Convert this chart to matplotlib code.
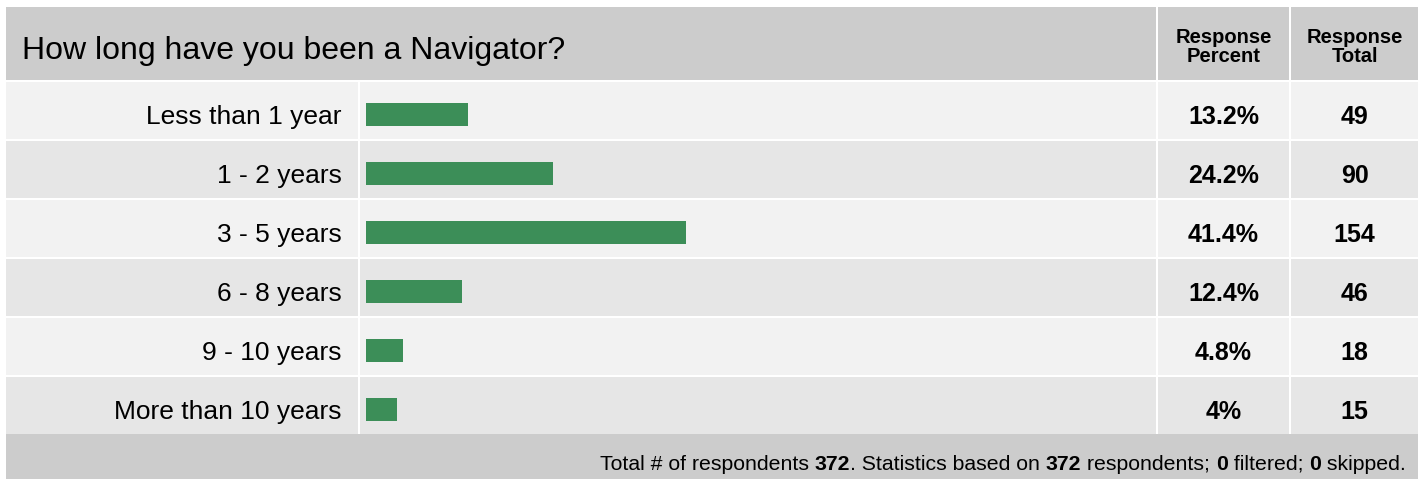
import matplotlib
matplotlib.use("Agg")
import matplotlib.pyplot as plt
from matplotlib.patches import Rectangle
from matplotlib.transforms import blended_transform_factory

plt.rcParams["font.family"] = ["Liberation Sans", "DejaVu Sans"]

question = "How long have you been a Navigator?"
categories = [
    "Less than 1 year",
    "1 - 2 years",
    "3 - 5 years",
    "6 - 8 years",
    "9 - 10 years",
    "More than 10 years",
]
percents = [13.2, 24.2, 41.4, 12.4, 4.8, 4.0]
percent_labels = ["13.2%", "24.2%", "41.4%", "12.4%", "4.8%", "4%"]
totals = [49, 90, 154, 46, 18, 15]
n_respondents = 372
n_filtered = 0
n_skipped = 0

W, H = 1424, 479
HEADER_C = "#cccccc"
ROW_C = ["#f2f2f2", "#e6e6e6"]
BAR_C = "#3c8e58"

fig = plt.figure(figsize=(W / 100, H / 100), dpi=100)
fig.patch.set_facecolor("white")

# background in pixel coords
bg = fig.add_axes([0, 0, 1, 1])
bg.set_xlim(0, W)
bg.set_ylim(H, 0)
bg.axis("off")

left, right = 6, 1418
col_label_end, col_bar_start = 358, 360
col_pct = (1158, 1289)
col_tot = (1291, 1418)
head_top, head_bot = 7, 80
row_top0, row_h, row_pitch = 81.7, 57, 59
foot_top = 434

def cell(x0, x1, y0, y1, c):
    bg.add_patch(Rectangle((x0, y0), x1 - x0, y1 - y0, facecolor=c, edgecolor="none"))

# header
cell(left, 1156, head_top, head_bot, HEADER_C)
cell(col_pct[0], col_pct[1], head_top, head_bot, HEADER_C)
cell(col_tot[0], col_tot[1], head_top, head_bot, HEADER_C)
bg.text(22, 51, question, fontsize=23, va="center", ha="left", color="black")
for (x0, x1), t in [(col_pct, "Response\nPercent"), (col_tot, "Response\nTotal")]:
    bg.text((x0 + x1) / 2, 47, t, fontsize=14.5, fontweight="bold", ha="center",
            va="center", linespacing=0.95)

# body rows
for i in range(len(categories)):
    y0 = row_top0 + i * row_pitch
    c = ROW_C[i % 2]
    cell(left, col_label_end, y0, y0 + row_h, c)
    cell(col_bar_start, 1156, y0, y0 + row_h, c)
    cell(col_pct[0], col_pct[1], y0, y0 + row_h, c)
    cell(col_tot[0], col_tot[1], y0, y0 + row_h, c)

# footer
cell(left, right, foot_top, H, HEADER_C)

# bar axes (shifted 3px down from row centres)
n = len(categories)
ax_top = row_top0 + 3
ax_bot = row_top0 + n * row_pitch + 3
bax = fig.add_axes([366 / W, 1 - ax_bot / H, 773 / W, (ax_bot - ax_top) / H])
bax.patch.set_alpha(0)
bax.set_xlim(0, 100)
bax.set_ylim(n - 0.5, -0.5)
bax.axis("off")
bax.barh(range(n), percents, height=0.39, color=BAR_C, left=0)

tr = blended_transform_factory(bg.transData, bax.transData)
for i in range(n):
    bg.text(342, i, categories[i], transform=tr, fontsize=19, ha="right", va="center_baseline")
    bg.text(sum(col_pct) / 2, i, percent_labels[i], transform=tr, fontsize=18,
            fontweight="bold", ha="center", va="center_baseline")
    bg.text(sum(col_tot) / 2, i, str(totals[i]), transform=tr, fontsize=18,
            fontweight="bold", ha="center", va="center_baseline")

# footer with mixed bold, laid out right to left
pieces = [
    ("Total # of respondents ", "normal"),
    (str(n_respondents), "bold"),
    (". Statistics based on ", "normal"),
    (str(n_respondents), "bold"),
    (" respondents; ", "normal"),
    (str(n_filtered), "bold"),
    (" filtered; ", "normal"),
    (str(n_skipped), "bold"),
    (" skipped.", "normal"),
]
renderer = fig.canvas.get_renderer()
fs = 15.3

def width_px(s, w):
    t1 = bg.text(0, 0, "|" + s + "|", fontsize=fs, fontweight=w)
    t2 = bg.text(0, 0, "||", fontsize=fs, fontweight=w)
    d = t1.get_window_extent(renderer).width - t2.get_window_extent(renderer).width
    t1.remove()
    t2.remove()
    return d

x = 1406
for s, w in reversed(pieces):
    x -= width_px(s, w)
    bg.text(x, 470, s, fontsize=fs, fontweight=w, ha="left", va="baseline")

fig.savefig("out.png", dpi=100)
